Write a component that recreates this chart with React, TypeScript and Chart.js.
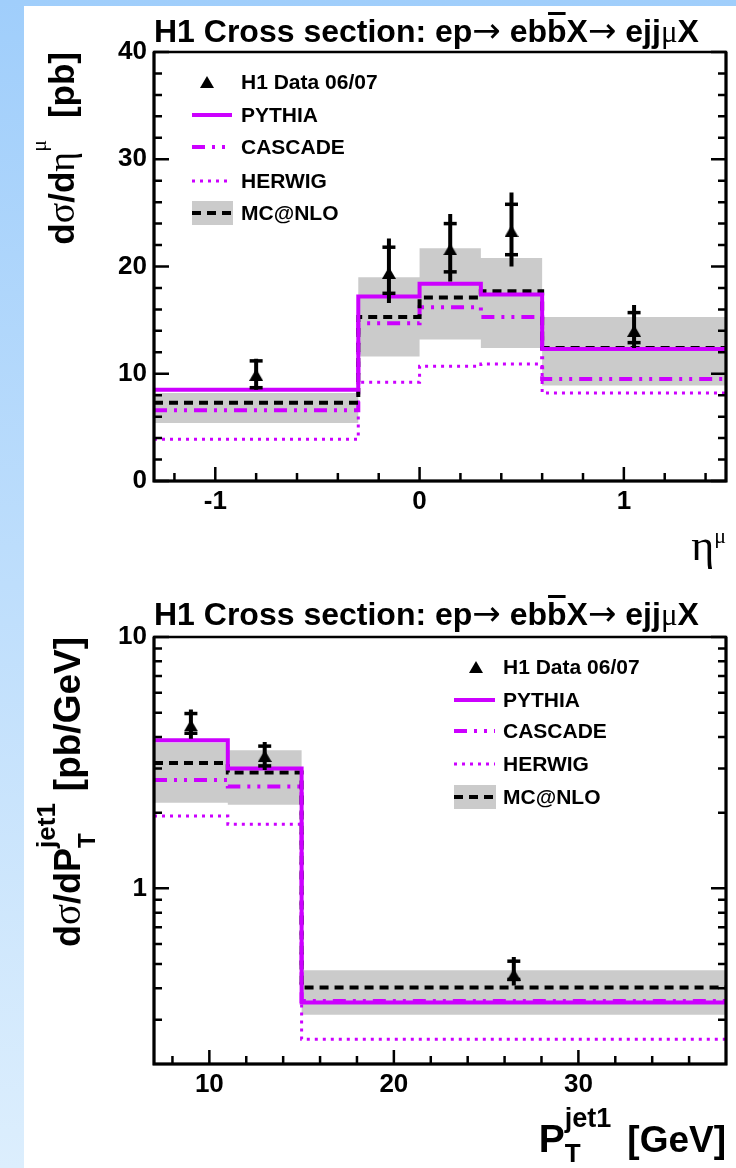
import React, { useEffect, useRef } from 'react';
import { Chart, registerables } from 'chart.js';

Chart.register(...registerables);

// ===== Panel 1: dσ/dη^μ =====
const etaBinEdges = [-1.3, -0.3, 0.0, 0.3, 0.6, 1.5];
const etaPythia = [8.5, 17.2, 18.4, 17.4, 12.3];
const etaCascade = [6.6, 14.7, 16.2, 15.3, 9.5];
const etaHerwig = [3.9, 9.2, 10.7, 10.9, 8.2];
const etaMcnlo = [7.3, 15.3, 17.1, 17.7, 12.4];
const etaMcnloUp = [8.2, 19.0, 21.7, 20.8, 15.3];
const etaMcnloDown = [5.4, 11.6, 13.2, 12.4, 8.9];
const etaDataX = [-0.8, -0.15, 0.15, 0.45, 1.05];
const etaDataY = [9.9, 19.4, 21.6, 23.3, 14.0];
const etaStatDown = [8.7, 17.5, 19.5, 21.1, 12.9];
const etaStatUp = [11.2, 21.8, 24.0, 25.8, 15.7];
const etaTotDown = [8.5, 16.6, 18.6, 20.0, 12.4];
const etaTotUp = [11.4, 22.6, 24.9, 26.9, 16.4];
const etaXTicks = [-1, 0, 1];
const etaYTicks = [0, 10, 20, 30, 40];

// ===== Panel 2: dσ/dP_T^jet1 =====
const ptBinEdges = [7, 11, 15, 38];
const ptPythia = [3.88, 3.0, 0.351];
const ptCascade = [2.7, 2.54, 0.356];
const ptHerwig = [1.94, 1.8, 0.251];
const ptMcnlo = [3.15, 2.89, 0.403];
const ptMcnloUp = [3.8, 3.54, 0.472];
const ptMcnloDown = [2.19, 2.15, 0.314];
const ptDataX = [9, 13, 26.5];
const ptDataY = [4.45, 3.36, 0.454];
const ptStatDown = [4.14, 3.07, 0.434];
const ptStatUp = [4.96, 3.68, 0.513];
const ptTotDown = [3.94, 2.96, 0.411];
const ptTotUp = [5.15, 3.82, 0.533];
const ptXTicks = [10, 20, 30];
const ptYTicks = [1, 10];

const legendLabels = ['H1 Data 06/07', 'PYTHIA', 'CASCADE', 'HERWIG', 'MC@NLO'];

// ===== styles =====
const MAGENTA = '#cc00ff';
const BAND = '#cbcbcb';
const SANS = '"Liberation Sans", Arial, Helvetica, sans-serif';
const SERIF = '"Liberation Serif", "Times New Roman", serif';
const bold = (n: number) => `bold ${n}px ${SANS}`;
const greek = (n: number) => `${n}px ${SERIF}`;
const arrowF = (n: number) => `${n}px "DejaVu Sans", sans-serif`;
const DASH_CASCADE = [13, 7, 3, 7, 3, 7];
const DASH_HERWIG = [3, 5];
const DASH_MCNLO = [9, 6];

type Seg = { t: string; font: string; dy?: number; dx?: number; stack?: boolean; bar?: number };

function titleSegs(): Seg[] {
  return [
    { t: 'H1 Cross section: ep', font: bold(32) },
    { t: '→', font: arrowF(34) },
    { t: ' eb', font: bold(32) },
    { t: 'b', font: bold(32), bar: 30 },
    { t: 'X', font: bold(32) },
    { t: '→', font: arrowF(34) },
    { t: ' ejj', font: bold(32) },
    { t: 'μ', font: greek(31) },
    { t: 'X', font: bold(32) },
  ];
}

function measureSegs(ctx: CanvasRenderingContext2D, segs: Seg[]) {
  let w = 0;
  let sw = 0;
  for (const s of segs) {
    ctx.font = s.font;
    const m = ctx.measureText(s.t).width;
    w += s.dx || 0;
    if (s.stack) sw = Math.max(sw, m);
    else {
      w += Math.max(m, sw);
      sw = 0;
    }
  }
  return w;
}

function drawSegs(ctx: CanvasRenderingContext2D, segs: Seg[], x: number, y: number) {
  let cx = x;
  let sw = 0;
  for (const s of segs) {
    ctx.font = s.font;
    const m = ctx.measureText(s.t).width;
    cx += s.dx || 0;
    ctx.fillText(s.t, cx, y + (s.dy || 0));
    if (s.bar) ctx.fillRect(cx + 1, y - s.bar, m - 2, 3);
    if (s.stack) sw = Math.max(sw, m);
    else {
      cx += Math.max(m, sw);
      sw = 0;
    }
  }
}

function histPoints(edges: number[], vals: number[]) {
  const pts: { x: number; y: number }[] = [];
  vals.forEach((v, i) => {
    pts.push({ x: edges[i], y: v });
    pts.push({ x: edges[i + 1], y: v });
  });
  return pts;
}

function errPoints(xs: number[], lo: number[], hi: number[]) {
  const pts: { x: number; y: number | null }[] = [];
  xs.forEach((x, i) => {
    pts.push({ x, y: lo[i] }, { x, y: hi[i] }, { x, y: null });
  });
  return pts;
}

function linMinor(min: number, max: number, step: number, majors: number[]) {
  const out: number[] = [];
  for (let k = Math.ceil(min / step - 1e-9); k * step <= max + 1e-9; k++) {
    const v = +(k * step).toFixed(6);
    if (v > min + 1e-9 && v < max - 1e-9 && !majors.some((m) => Math.abs(m - v) < 1e-9)) out.push(v);
  }
  return out;
}

function logMinor(min: number, max: number) {
  const out: number[] = [];
  for (let e = -2; e <= 3; e++) {
    for (let m = 2; m <= 9; m++) {
      const v = m * Math.pow(10, e);
      if (v > min + 1e-9 && v < max - 1e-9) out.push(v);
    }
  }
  return out;
}

function makeTriangle() {
  const c = document.createElement('canvas');
  c.width = 14;
  c.height = 12;
  const g = c.getContext('2d')!;
  g.fillStyle = '#000';
  g.beginPath();
  g.moveTo(7, 0);
  g.lineTo(14, 12);
  g.lineTo(0, 12);
  g.closePath();
  g.fill();
  return c;
}

const panelEta = {
  edges: etaBinEdges, pythia: etaPythia, cascade: etaCascade, herwig: etaHerwig,
  mcnlo: etaMcnlo, up: etaMcnloUp, down: etaMcnloDown,
  dataX: etaDataX, dataY: etaDataY, statDown: etaStatDown, statUp: etaStatUp,
  totDown: etaTotDown, totUp: etaTotUp,
  xMin: -1.3, xMax: 1.5, yMin: 0, yMax: 40, yType: 'linear',
  xTicks: etaXTicks, yTicks: etaYTicks, xMinorStep: 0.2, yMinorStep: 2,
  padTop: 52, xAxisH: 109, titleY: 42,
  yTitle: [
    { t: 'd', font: bold(35) }, { t: 'σ', font: greek(38) }, { t: '/', font: bold(35) },
    { t: 'd', font: bold(35) }, { t: 'η', font: greek(38) }, { t: 'μ', font: greek(22), dy: -28 },
    { t: '[pb]', font: bold(35), dx: 22 },
  ] as Seg[],
  yTitleX: 74, yTitleEnd: 52,
  xTitle: [{ t: 'η', font: greek(44) }, { t: 'μ', font: greek(22), dy: -17 }] as Seg[],
  xTitleY: 560,
  legend: { rows: [82, 115, 147, 181, 213], sx0: 192, sx1: 232, tx: 241, triX: 207 },
};

const panelPt = {
  edges: ptBinEdges, pythia: ptPythia, cascade: ptCascade, herwig: ptHerwig,
  mcnlo: ptMcnlo, up: ptMcnloUp, down: ptMcnloDown,
  dataX: ptDataX, dataY: ptDataY, statDown: ptStatDown, statUp: ptStatUp,
  totDown: ptTotDown, totUp: ptTotUp,
  xMin: 7, xMax: 38, yMin: 0.2, yMax: 10, yType: 'logarithmic',
  xTicks: ptXTicks, yTicks: ptYTicks, xMinorStep: 2, yMinorStep: 0,
  padTop: 47, xAxisH: 104, titleY: 35,
  yTitle: [
    { t: 'd', font: bold(36) }, { t: 'σ', font: greek(39) }, { t: '/', font: bold(36) },
    { t: 'd', font: bold(36) }, { t: 'P', font: bold(36) },
    { t: 'T', font: bold(24), dy: 15, stack: true },
    { t: 'jet1', font: bold(26), dy: -25 },
    { t: '[pb/GeV]', font: bold(37), dx: 12 },
  ] as Seg[],
  yTitleX: 80, yTitleEnd: 47,
  xTitle: [
    { t: 'P', font: bold(39) },
    { t: 'T', font: bold(26), dy: 10, stack: true },
    { t: 'jet1', font: bold(27), dy: -25 },
    { t: '[GeV]', font: bold(37), dx: 16 },
  ] as Seg[],
  xTitleY: 562,
  legend: { rows: [77, 110, 141, 174, 207], sx0: 454, sx1: 495, tx: 503, triX: 476 },
};

function decorPlugin(p: any, tri: HTMLCanvasElement) {
  return {
    id: 'decor',
    afterDraw(chart: any) {
      const ctx: CanvasRenderingContext2D = chart.ctx;
      const a = chart.chartArea;
      const xs = chart.scales.x;
      const ys = chart.scales.y;
      ctx.save();
      ctx.strokeStyle = '#000';
      ctx.fillStyle = '#000';
      ctx.lineCap = 'butt';
      ctx.setLineDash([]);

      // tick marks (inward, both sides for y)
      const yMinor = p.yType === 'logarithmic' ? logMinor(p.yMin, p.yMax) : linMinor(p.yMin, p.yMax, p.yMinorStep, p.yTicks);
      const yt: [number, number][] = [...p.yTicks.map((v: number) => [v, 15]), ...yMinor.map((v) => [v, 8])];
      const xMinor = linMinor(p.xMin, p.xMax, p.xMinorStep, p.xTicks);
      const xt: [number, number][] = [...p.xTicks.map((v: number) => [v, 14]), ...xMinor.map((v) => [v, 8])];
      ctx.lineWidth = 2.5;
      ctx.beginPath();
      for (const [v, l] of yt) {
        const py = ys.getPixelForValue(v);
        ctx.moveTo(a.left, py);
        ctx.lineTo(a.left + l, py);
        ctx.moveTo(a.right, py);
        ctx.lineTo(a.right - l, py);
      }
      for (const [v, l] of xt) {
        const px = xs.getPixelForValue(v);
        ctx.moveTo(px, a.bottom);
        ctx.lineTo(px, a.bottom - l);
      }
      ctx.stroke();

      // frame
      ctx.lineWidth = 2.5;
      ctx.strokeRect(a.left, a.top, a.right - a.left, a.bottom - a.top);
      ctx.lineWidth = 3;
      ctx.beginPath();
      ctx.moveTo(a.left, a.top);
      ctx.lineTo(a.left, a.bottom);
      ctx.lineTo(a.right, a.bottom);
      ctx.lineTo(a.right, a.top);
      ctx.stroke();

      // title
      ctx.textAlign = 'left';
      ctx.textBaseline = 'alphabetic';
      drawSegs(ctx, titleSegs(), a.left, p.titleY);

      // y title (rotated, right-aligned to top of axis)
      const yw = measureSegs(ctx, p.yTitle);
      ctx.save();
      ctx.translate(p.yTitleX, p.yTitleEnd);
      ctx.rotate(-Math.PI / 2);
      drawSegs(ctx, p.yTitle, -yw, 0);
      ctx.restore();

      // x title (right-aligned)
      const xw = measureSegs(ctx, p.xTitle);
      drawSegs(ctx, p.xTitle, a.right - xw, p.xTitleY);

      // legend
      const L = p.legend;
      const r = L.rows;
      ctx.drawImage(tri, L.triX - 7, r[0] - 6);
      ctx.strokeStyle = MAGENTA;
      ctx.lineWidth = 4;
      ctx.beginPath(); ctx.moveTo(L.sx0, r[1]); ctx.lineTo(L.sx1, r[1]); ctx.stroke();
      ctx.setLineDash(DASH_CASCADE);
      ctx.beginPath(); ctx.moveTo(L.sx0, r[2]); ctx.lineTo(L.sx1, r[2]); ctx.stroke();
      ctx.lineWidth = 3;
      ctx.setLineDash(DASH_HERWIG);
      ctx.beginPath(); ctx.moveTo(L.sx0, r[3]); ctx.lineTo(L.sx1, r[3]); ctx.stroke();
      ctx.setLineDash([]);
      ctx.fillStyle = BAND;
      ctx.fillRect(L.sx0, r[4] - 12, L.sx1 - L.sx0 + 1, 24);
      ctx.strokeStyle = '#000';
      ctx.lineWidth = 4;
      ctx.setLineDash(DASH_MCNLO);
      ctx.beginPath(); ctx.moveTo(L.sx0, r[4]); ctx.lineTo(L.sx1, r[4]); ctx.stroke();
      ctx.setLineDash([]);

      ctx.fillStyle = '#000';
      ctx.font = bold(21);
      ctx.textBaseline = 'middle';
      legendLabels.forEach((lab, i) => ctx.fillText(lab, L.tx, r[i] + 1));
      ctx.restore();
    },
  };
}

function buildConfig(p: any, tri: HTMLCanvasElement): any {
  const base = { pointRadius: 0, fill: false, tension: 0, borderCapStyle: 'butt' };
  const tickFont = { family: SANS, size: 26, weight: 'bold' };
  return {
    type: 'line',
    data: {
      datasets: [
        { ...base, label: 'MC@NLO uncertainty (up)', data: histPoints(p.edges, p.up), borderColor: 'rgba(0,0,0,0)', borderWidth: 1, order: 20 },
        { ...base, label: 'MC@NLO uncertainty (down)', data: histPoints(p.edges, p.down), borderColor: 'rgba(0,0,0,0)', borderWidth: 1, fill: '-1', backgroundColor: BAND, order: 19 },
        { ...base, label: legendLabels[3], data: histPoints(p.edges, p.herwig), borderColor: MAGENTA, borderWidth: 3, borderDash: DASH_HERWIG, order: 18 },
        { ...base, label: legendLabels[2], data: histPoints(p.edges, p.cascade), borderColor: MAGENTA, borderWidth: 4, borderDash: DASH_CASCADE, order: 17 },
        { ...base, label: legendLabels[4], data: histPoints(p.edges, p.mcnlo), borderColor: '#000', borderWidth: 4, borderDash: DASH_MCNLO, order: 16 },
        { ...base, label: legendLabels[1], data: histPoints(p.edges, p.pythia), borderColor: MAGENTA, borderWidth: 4, order: 15 },
        { ...base, label: 'total uncertainty', data: errPoints(p.dataX, p.totDown, p.totUp), borderColor: '#000', borderWidth: 4, spanGaps: false, order: 3 },
        {
          label: 'statistical uncertainty',
          data: [...p.dataX.map((x: number, i: number) => ({ x, y: p.statDown[i] })), ...p.dataX.map((x: number, i: number) => ({ x, y: p.statUp[i] }))],
          showLine: false, pointStyle: 'line', pointRadius: 6.5, pointBorderWidth: 3.5, pointBorderColor: '#000', borderColor: '#000', order: 2,
        },
        {
          label: legendLabels[0],
          data: p.dataX.map((x: number, i: number) => ({ x, y: p.dataY[i] })),
          showLine: false, pointStyle: tri, pointRadius: 7, borderColor: '#000', backgroundColor: '#000', order: 1,
        },
      ],
    },
    options: {
      responsive: false,
      animation: false,
      events: [],
      layout: { padding: { left: 0, right: 9, top: p.padTop, bottom: 0 } },
      plugins: { legend: { display: false }, tooltip: { enabled: false }, title: { display: false } },
      scales: {
        x: {
          type: 'linear', min: p.xMin, max: p.xMax,
          grid: { display: false, drawTicks: false }, border: { display: false },
          ticks: { font: tickFont, color: '#000', padding: 5, maxRotation: 0, autoSkip: false, callback: (v: number) => String(v) },
          afterBuildTicks: (ax: any) => { ax.ticks = p.xTicks.map((v: number) => ({ value: v })); },
          afterFit: (ax: any) => { ax.height = p.xAxisH; },
        },
        y: {
          type: p.yType, min: p.yMin, max: p.yMax,
          grid: { display: false, drawTicks: false }, border: { display: false },
          ticks: { font: tickFont, color: '#000', padding: 7, autoSkip: false, callback: (v: number) => String(v) },
          afterBuildTicks: (ax: any) => { ax.ticks = p.yTicks.map((v: number) => ({ value: v })); },
          afterFit: (ax: any) => { ax.width = 154; },
        },
      },
    },
    plugins: [decorPlugin(p, tri)],
  };
}

export default function App() {
  const ref1 = useRef<HTMLCanvasElement>(null);
  const ref2 = useRef<HTMLCanvasElement>(null);
  useEffect(() => {
    const tri = makeTriangle();
    const c1 = new Chart(ref1.current!, buildConfig(panelEta, tri));
    const c2 = new Chart(ref2.current!, buildConfig(panelPt, tri));
    return () => {
      c1.destroy();
      c2.destroy();
    };
  }, []);
  return (
    <div style={{ position: 'absolute', left: 0, top: 0, width: 736, height: 1168, overflow: 'hidden', background: 'linear-gradient(#a0cefb, #dceefd)' }}>
      <div style={{ position: 'absolute', left: 24, top: 6, width: 712, height: 1162, background: '#fff' }} />
      <canvas ref={ref1} width={736} height={590} style={{ position: 'absolute', left: 0, top: 0 }} />
      <canvas ref={ref2} width={736} height={578} style={{ position: 'absolute', left: 0, top: 590 }} />
    </div>
  );
}
